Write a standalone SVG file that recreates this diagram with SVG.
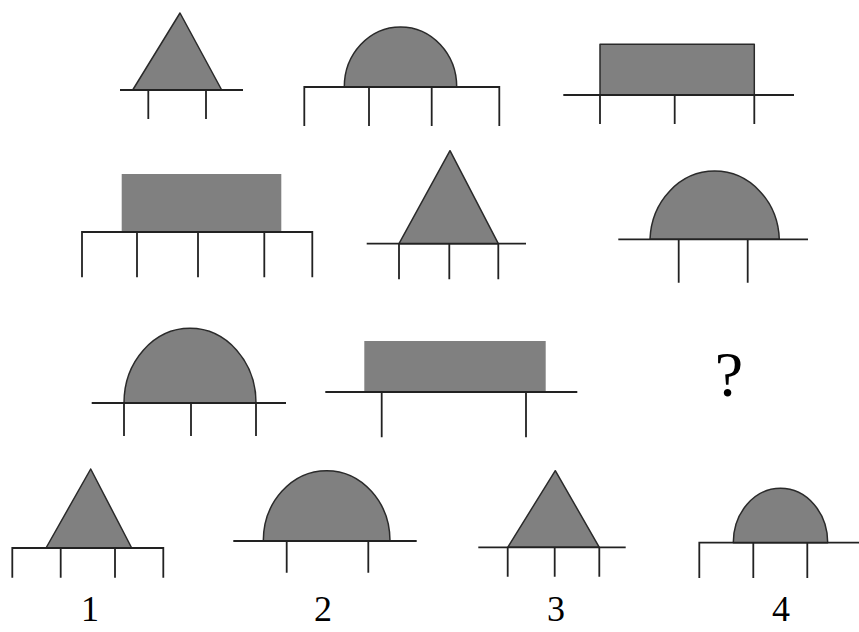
<svg xmlns="http://www.w3.org/2000/svg" width="859" height="632" viewBox="0 0 859 632">
<style>
.shape{fill:#808080;stroke:#2a2a2a;stroke-width:1.5;stroke-linejoin:round}
.flat{fill:#808080;stroke:none}
.ln{fill:none;stroke:#222;stroke-width:1.8;stroke-linecap:butt}
.lbl{font-family:"Liberation Serif","Times New Roman",serif;fill:#000;text-anchor:middle}
</style>
<rect width="859" height="632" fill="#fff"/>

<g id="fig1">
<polygon class="shape" points="180,13 132.7,90 221.7,90"/>
<path class="ln" d="M120,90H243M148.3,90V119M206,90V119"/>
</g>

<g id="fig2">
<path class="shape" d="M344.3,87 A56.2,60 0 0 1 456.7,87 Z"/>
<path class="ln" d="M304.3,126V87H499.3V126M369,87V126M431.7,87V126"/>
</g>

<g id="fig3">
<rect class="shape" x="600" y="44.3" width="154.3" height="50.7"/>
<path class="ln" d="M563.3,95H794M600,95V124M674.7,95V124M754.3,95V124"/>
</g>

<g id="fig4">
<rect class="flat" x="121.7" y="174" width="159.6" height="58"/>
<path class="ln" d="M82,277.3V232H312.3V277.3M137,232V277.3M198,232V277.3M264.3,232V277.3"/>
</g>

<g id="fig5">
<polygon class="shape" points="450,150.7 399,243.7 498.3,243.7"/>
<path class="ln" d="M366.7,243.7H526M399,243.7V279.3M449.3,243.7V279.3M498.3,243.7V279.3"/>
</g>

<g id="fig6">
<path class="shape" d="M650,239.3 A64.7,71 0 0 1 779.3,239.3 Z"/>
<path class="ln" d="M618.3,239.3H808M678.7,239.3V282.7M747.7,239.3V282.7"/>
</g>

<g id="fig7">
<path class="shape" d="M124,403 A66,74.7 0 0 1 256,403 Z"/>
<path class="ln" d="M91.7,403H286M124,403V436M191,403V436M256,403V436"/>
</g>

<g id="fig8">
<rect class="flat" x="364.3" y="341" width="181.4" height="51"/>
<path class="ln" d="M325.3,392H577.3M381.7,392V437.3M526,392V437.3"/>
</g>

<g id="question">
<text class="lbl" x="729" y="396" font-size="64">?</text>
</g>

<g id="opt1">
<polygon class="shape" points="90.7,469 46,548 131.7,548"/>
<path class="ln" d="M12.3,577.7V548H163.3V577.7M60.7,548V577.7M115,548V577.7"/>
<text class="lbl" x="90" y="621" font-size="36">1</text>
</g>

<g id="opt2">
<path class="shape" d="M263.3,541 A63.3,70.3 0 0 1 390,541 Z"/>
<path class="ln" d="M233.3,541H416.7M286.7,541V572.7M368.3,541V572.7"/>
<text class="lbl" x="323" y="621" font-size="36">2</text>
</g>

<g id="opt3">
<polygon class="shape" points="555.3,470.7 507.7,547.3 599.3,547.3"/>
<path class="ln" d="M478.3,547.3H625.7M507.7,547.3V576.7M554.7,547.3V576.7M599.3,547.3V576.7"/>
<text class="lbl" x="556" y="621" font-size="36">3</text>
</g>

<g id="opt4">
<path class="shape" d="M733.3,542.7 A47.2,54.4 0 0 1 827.7,542.7 Z"/>
<path class="ln" d="M699.3,578V542.7H859M753.3,542.7V578M807.3,542.7V578"/>
<text class="lbl" x="781" y="621" font-size="36">4</text>
</g>
</svg>
